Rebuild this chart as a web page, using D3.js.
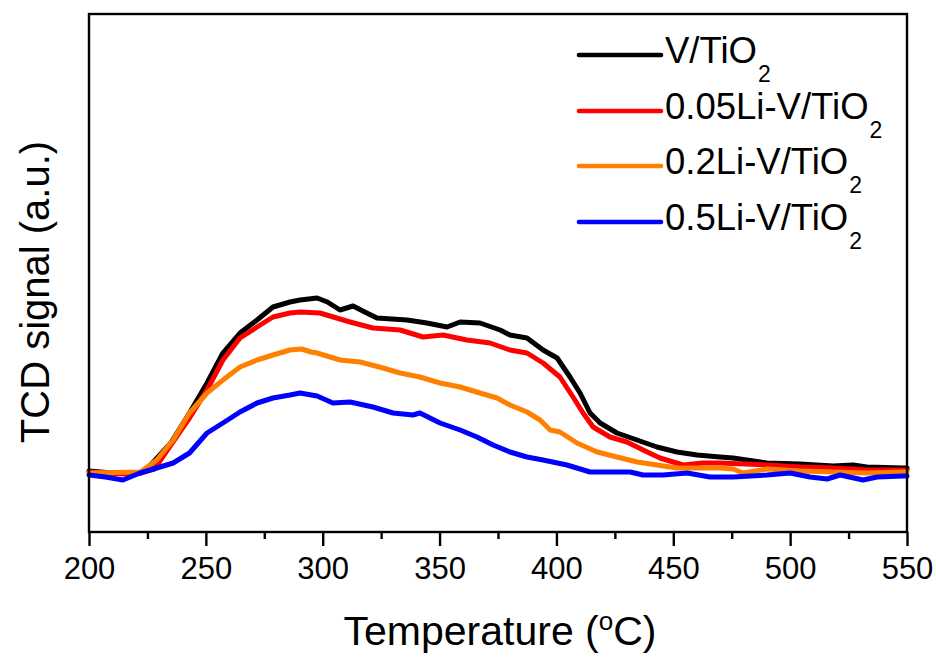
<!DOCTYPE html>
<html>
<head>
<meta charset="utf-8">
<script src="https://cdn.jsdelivr.net/npm/d3@7"></script>
<style>
  html, body { margin: 0; padding: 0; background: #fff; }
  svg { display: block; font-family: "Liberation Sans", Arial, sans-serif; }
</style>
</head>
<body>
<svg id="chart" width="936" height="657"></svg>
<script>
// ---- data (temperature °C, TCD signal a.u.) ----
const seriesNames = ["V/TiO", "0.05Li-V/TiO", "0.2Li-V/TiO", "0.5Li-V/TiO"];
const seriesColors = ["#000000", "#ff0000", "#ff8000", "#0000ff"];
const xTicks = [200, 250, 300, 350, 400, 450, 500, 550];
const xMinorTicks = [225, 275, 325, 375, 425, 475, 525];

const vTiO2 = [
  [200,6.1],[210,5.9],[222,5.9],[226,6.6],[235,8.9],[243,11.9],[250.5,14.9],[257.3,17.9],
  [264.6,19.9],[271.9,21.2],[278.7,22.5],[286,23.0],[290.3,23.2],[297.6,23.4],[302,23.0],
  [307.4,22.2],[313,22.6],[318,22.0],[323.2,21.4],[336.1,21.2],[344.6,20.9],[353.2,20.5],
  [358.8,21.0],[367.3,20.9],[375.9,20.2],[380.1,19.7],[387.4,19.4],[394.3,18.2],[400.3,17.4],
  [405.8,15.5],[410.1,13.9],[414.4,11.9],[418.7,10.9],[425.9,9.9],[434.5,9.2],[443,8.5],
  [451.6,8.0],[460.2,7.7],[470,7.5],[475.6,7.4],[490.1,6.9],[504.2,6.8],[518.4,6.6],
  [526.9,6.7],[532.9,6.5],[548.3,6.4],[550,6.4]
];
const li005 = [
  [200,6.0],[215,5.8],[222,5.9],[228,6.3],[235,8.7],[243,11.4],[250.5,14.2],[257.3,17.2],
  [264.6,19.4],[271.9,20.5],[278.7,21.5],[286,21.9],[290.3,22.0],[298.8,21.9],[311.7,21.0],
  [321.5,20.4],[333.1,20.2],[342.9,19.5],[351.5,19.7],[361.7,19.2],[371.6,18.9],[380.1,18.2],
  [387.4,17.9],[394.3,16.9],[401.5,15.5],[407.1,13.5],[411.4,11.9],[415.7,10.5],[422.9,9.5],
  [430.2,9.0],[437.1,8.2],[444.3,7.4],[454.2,6.7],[462.7,6.9],[470,6.9],[490.1,6.7],
  [504.2,6.5],[518.4,6.4],[532.9,6.2],[550,6.2]
];
const li02 = [
  [200,5.9],[222,6.0],[229,7.2],[236,9.2],[243,11.9],[250.5,13.9],[257.3,15.2],[264.6,16.5],
  [271.9,17.2],[278.7,17.7],[286,18.2],[291,18.3],[295,18.0],[297.6,17.9],[307.4,17.2],
  [316,17.0],[325.8,16.4],[333.1,15.9],[341.6,15.5],[350.2,14.9],[358.8,14.5],[367.3,13.9],
  [374.6,13.4],[380.1,12.7],[387.4,12.0],[393,11.2],[397.3,10.2],[401.5,10.0],[408.8,8.9],
  [417.4,8.0],[425.9,7.5],[434.5,7.0],[443,6.7],[451.6,6.4],[460.2,6.4],[470,6.4],
  [475.6,6.3],[479.8,5.9],[490.1,6.3],[497,6.2],[504.2,6.1],[518.4,6.0],[532.9,5.9],
  [548.3,6.0],[550,6.0]
];
const li05 = [
  [200,5.7],[207,5.5],[214.5,5.2],[221.8,5.9],[229,6.4],[236,6.9],[243,7.9],[250.5,9.9],
  [257.3,10.9],[264.6,12.0],[271.9,12.9],[278.7,13.4],[286,13.7],[290.3,13.9],[297.6,13.6],
  [304.4,12.9],[311.7,13.0],[321.5,12.5],[330.1,11.9],[338.6,11.7],[341.6,11.9],[350.2,10.9],
  [358.8,10.2],[366,9.5],[372.9,8.7],[380.1,8.0],[387.4,7.5],[394.3,7.2],[404.5,6.7],
  [414.4,6.0],[422.9,6.0],[431.5,6.0],[437.1,5.7],[445.6,5.7],[455.9,5.9],[465.7,5.5],
  [475.6,5.5],[490.1,5.7],[500,5.9],[508.5,5.5],[515.8,5.3],[521.4,5.7],[531.2,5.2],
  [537.2,5.5],[548.3,5.6],[550,5.6]
];
const allSeries = [vTiO2, li005, li02, li05];

// ---- layout ----
const svg = d3.select("#chart");
const L = 89, R = 907, T = 14, B = 532;
const x = d3.scaleLinear().domain([200, 550]).range([L, R]);
const y = d3.scaleLinear().domain([0, 51.8]).range([B, T]);

// curves
const line = d3.line().x(d => x(d[0])).y(d => y(d[1]));
allSeries.forEach((s, i) => {
  svg.append("path")
    .datum(s)
    .attr("d", line)
    .attr("fill", "none")
    .attr("stroke", seriesColors[i])
    .attr("stroke-width", 5)
    .attr("stroke-linejoin", "round")
    .attr("stroke-linecap", "round");
});

// frame
svg.append("rect")
  .attr("x", L).attr("y", T).attr("width", R - L).attr("height", B - T)
  .attr("fill", "none").attr("stroke", "#000").attr("stroke-width", 2.4);

// x axis major ticks + labels
const xAxis = d3.axisBottom(x).tickValues(xTicks).tickSize(14).tickPadding(11)
  .tickFormat(d3.format("d"));
const gx = svg.append("g").attr("transform", `translate(0,${B})`).call(xAxis);
gx.select(".domain").remove();
gx.selectAll(".tick line").attr("stroke", "#000").attr("stroke-width", 2.4);
gx.selectAll(".tick text").attr("font-size", 31).attr("fill", "#000")
  .attr("font-family", "Liberation Sans, Arial, sans-serif");

// minor ticks
const xMinor = d3.axisBottom(x).tickValues(xMinorTicks).tickSize(7).tickFormat("");
const gm = svg.append("g").attr("transform", `translate(0,${B})`).call(xMinor);
gm.select(".domain").remove();
gm.selectAll(".tick line").attr("stroke", "#000").attr("stroke-width", 2.4);

// axis titles
const xt = svg.append("text")
  .attr("x", (L + R) / 2 + 2).attr("y", 645)
  .attr("text-anchor", "middle").attr("font-size", 41).attr("fill", "#000");
xt.append("tspan").text("Temperature (");
xt.append("tspan").text("o").attr("font-size", 26).attr("dy", -15);
xt.append("tspan").text("C)").attr("dy", 15);

svg.append("text")
  .attr("transform", "translate(49,292) rotate(-90)")
  .attr("text-anchor", "middle").attr("font-size", 40).attr("fill", "#000")
  .text("TCD signal (a.u.)");

// legend
const legY = [55, 111, 166, 222];
seriesNames.forEach((name, i) => {
  const g = svg.append("g");
  g.append("line")
    .attr("x1", 579).attr("x2", 661).attr("y1", legY[i]).attr("y2", legY[i])
    .attr("stroke", seriesColors[i]).attr("stroke-width", 4.6).attr("stroke-linecap", "round");
  const t = g.append("text").attr("x", 665).attr("y", legY[i] + 8)
    .attr("font-size", 36.5).attr("fill", "#000");
  t.append("tspan").text(name);
  t.append("tspan").text("2").attr("font-size", 23).attr("dx", 1).attr("dy", 19);
});
</script>
</body>
</html>
